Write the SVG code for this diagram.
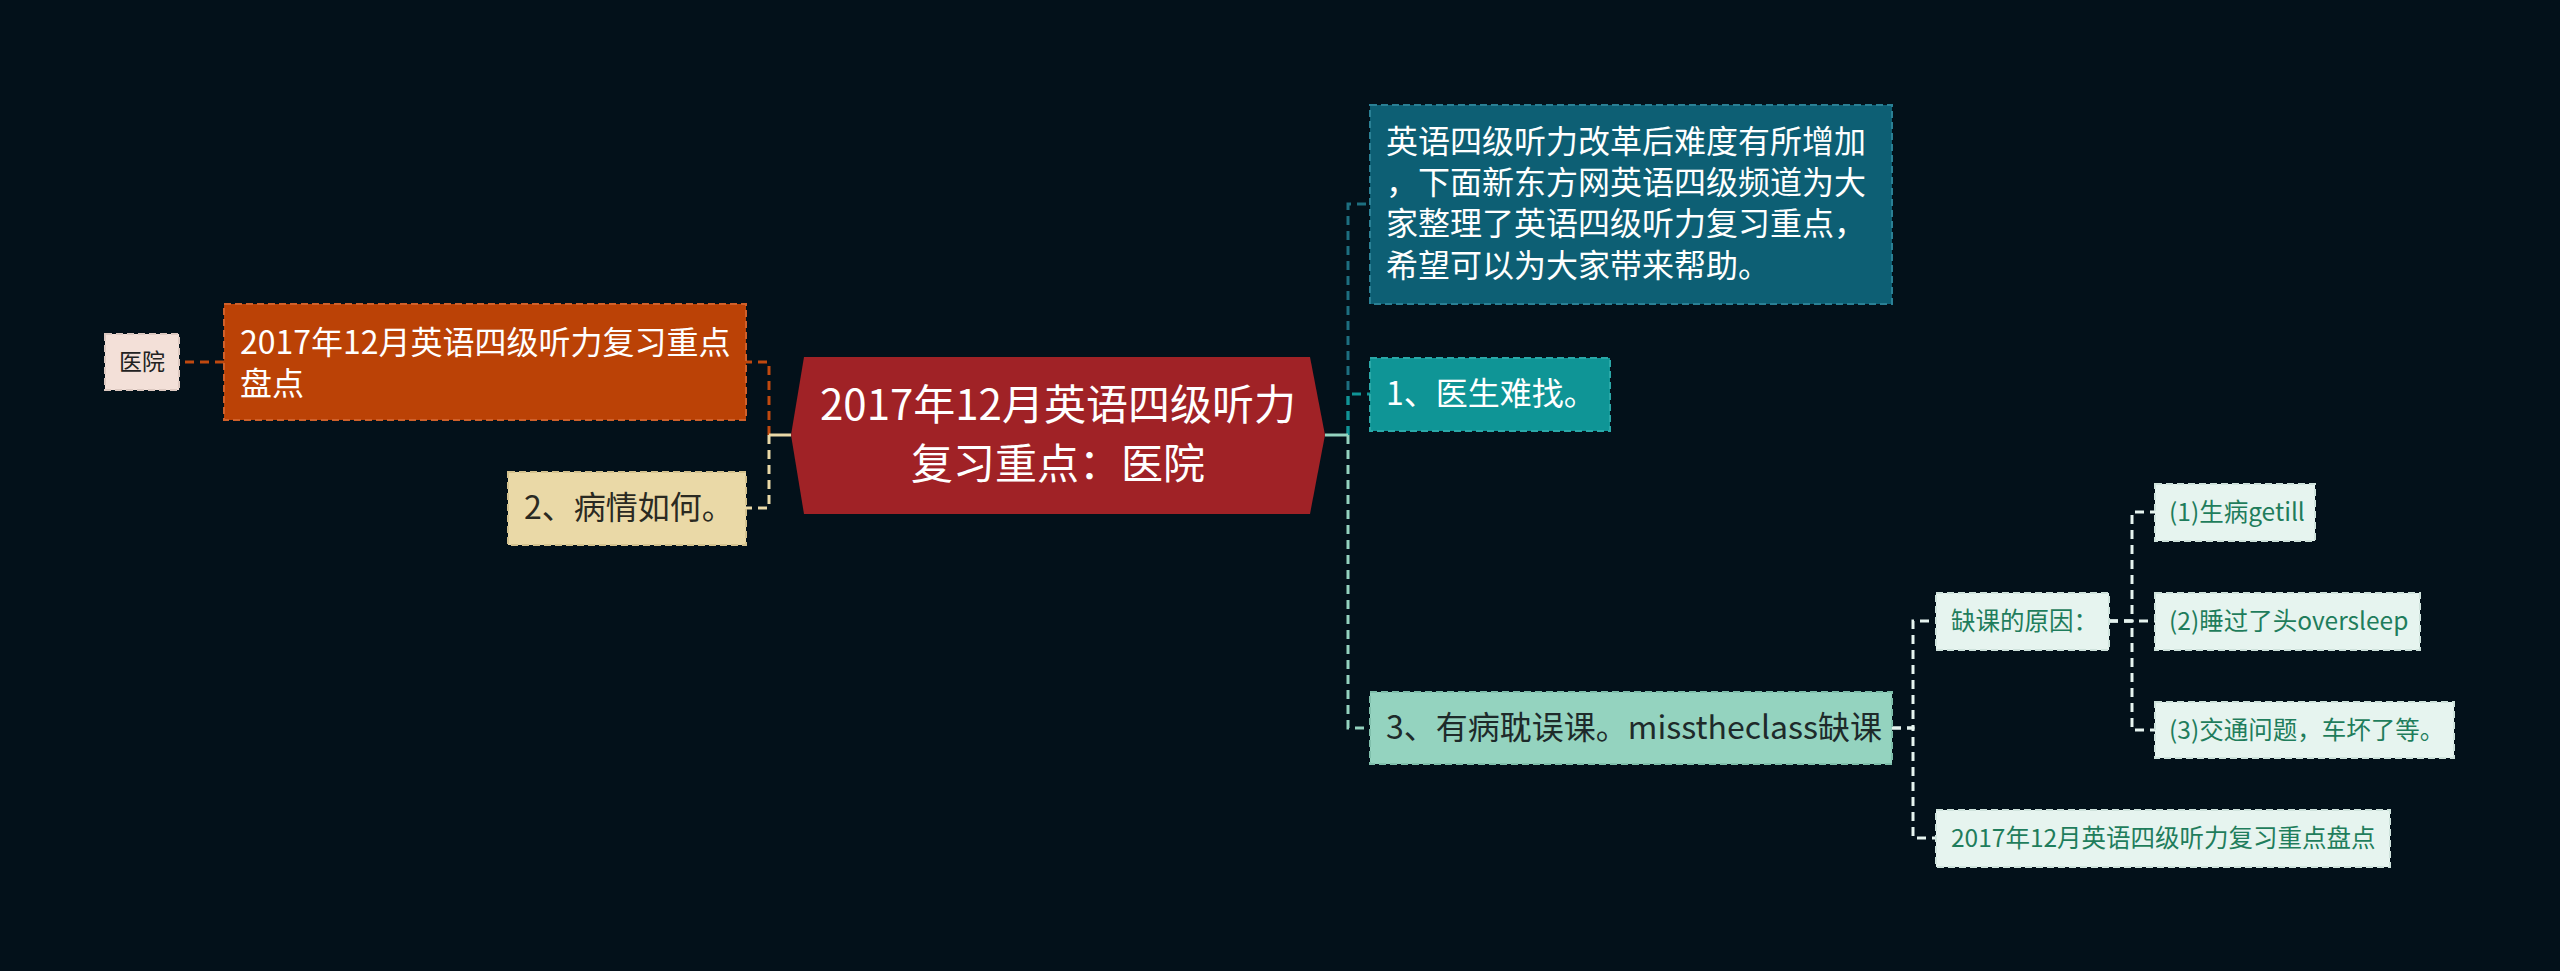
<svg xmlns="http://www.w3.org/2000/svg" width="2560" height="971" viewBox="0 0 2560 971">
<style>
text{font-family:"Noto Sans CJK SC","Noto Sans",sans-serif;}
.c{fill:none;stroke-width:3;stroke-dasharray:9 6;}
.s{fill:none;stroke-width:3;}
.b{stroke-width:2;stroke-dasharray:7 4;}
.t31{font-size:32px;}
.t25{font-size:24.5px;fill:#1f7d5c;}
</style>
<rect width="2560" height="971" fill="#03111a"/>
<g id="connectors">
  <path class="c" stroke="#1d6f80" d="M1348 435 V204 H1370"/>
  <path class="c" stroke="#0f9596" d="M1348 435 V394 H1370"/>
  <path class="c" stroke="#94d3bf" d="M1348 435 V728 H1370"/>
  <path class="s" stroke="#94d3bf" d="M1325 435 H1348"/>
  <path class="c" stroke="#e6f4ef" d="M1892 728 H1913 V621 H1936"/>
  <path class="c" stroke="#e6f4ef" d="M1892 728 H1913 V838 H1936"/>
  <path class="c" stroke="#e6f4ef" d="M2109 621 H2132 V512 H2155"/>
  <path class="c" stroke="#e6f4ef" d="M2109 621 H2155"/>
  <path class="c" stroke="#e6f4ef" d="M2109 621 H2132 V730 H2155"/>
  <path class="c" stroke="#c0490f" d="M769 435 V362 H746"/>
  <path class="c" stroke="#ead9a7" d="M769 435 V508 H746"/>
  <path class="s" stroke="#ead9a7" d="M791 435 H769"/>
  <path class="c" stroke="#c0490f" d="M224 362 H179"/>
</g>
<g id="center">
  <polygon points="791,435 804,357 1310,357 1325,435 1310,514 804,514" fill="#a02226"/>
  <text x="1058" y="420" font-size="42" fill="#ffffff" text-anchor="middle">2017年12月英语四级听力</text>
  <text x="1058" y="479" font-size="42" fill="#ffffff" text-anchor="middle">复习重点：医院</text>
</g>
<g id="nodeA">
  <rect class="b" x="1370" y="105" width="522" height="199" fill="#0d5f74" stroke="#2a8095"/>
  <text class="t31" fill="#ffffff" x="1386" y="153">英语四级听力改革后难度有所增加</text>
  <text class="t31" fill="#ffffff" x="1386" y="194">，下面新东方网英语四级频道为大</text>
  <text class="t31" fill="#ffffff" x="1386" y="235">家整理了英语四级听力复习重点，</text>
  <text class="t31" fill="#ffffff" x="1386" y="277">希望可以为大家带来帮助。</text>
</g>
<g id="nodeB">
  <rect class="b" x="1370" y="358" width="240" height="73" fill="#0f9596" stroke="#2aa8a8"/>
  <text class="t31" fill="#ffffff" x="1386" y="405">1、医生难找。</text>
</g>
<g id="nodeC">
  <rect class="b" x="1370" y="692" width="522" height="72" fill="#94d3bf" stroke="#7fbfab"/>
  <text class="t31" fill="#1e2a2a" x="1386" y="739">3、有病耽误课。misstheclass缺课</text>
</g>
<g id="nodeD">
  <rect class="b" x="1936" y="593" width="173" height="57" fill="#e6f4ef" stroke="#cfe3dc"/>
  <text class="t25" x="1951" y="630">缺课的原因：</text>
</g>
<g id="nodeE">
  <rect class="b" x="2155" y="484" width="160" height="57" fill="#e6f4ef" stroke="#cfe3dc"/>
  <text class="t25" x="2169" y="521">(1)生病getill</text>
</g>
<g id="nodeF">
  <rect class="b" x="2155" y="593" width="265" height="57" fill="#e6f4ef" stroke="#cfe3dc"/>
  <text class="t25" x="2169" y="630">(2)睡过了头oversleep</text>
</g>
<g id="nodeG">
  <rect class="b" x="2155" y="702" width="299" height="56" fill="#e6f4ef" stroke="#cfe3dc"/>
  <text class="t25" x="2169" y="739">(3)交通问题，车坏了等。</text>
</g>
<g id="nodeH">
  <rect class="b" x="1936" y="810" width="454" height="57" fill="#e6f4ef" stroke="#cfe3dc"/>
  <text class="t25" x="1951" y="847">2017年12月英语四级听力复习重点盘点</text>
</g>
<g id="nodeI">
  <rect class="b" x="224" y="304" width="522" height="116" fill="#bb4206" stroke="#d0602a"/>
  <text class="t31" fill="#ffffff" x="240" y="354">2017年12月英语四级听力复习重点</text>
  <text class="t31" fill="#ffffff" x="240" y="395">盘点</text>
</g>
<g id="nodeJ">
  <rect class="b" x="508" y="472" width="238" height="73" fill="#ead9a7" stroke="#d4c28e"/>
  <text class="t31" fill="#2a2a22" x="524" y="519">2、病情如何。</text>
</g>
<g id="nodeK">
  <rect class="b" x="105" y="334" width="74" height="56" fill="#f3e0d8" stroke="#dcc8c0"/>
  <text font-size="23" fill="#222222" x="142" y="370" text-anchor="middle">医院</text>
</g>
</svg>
